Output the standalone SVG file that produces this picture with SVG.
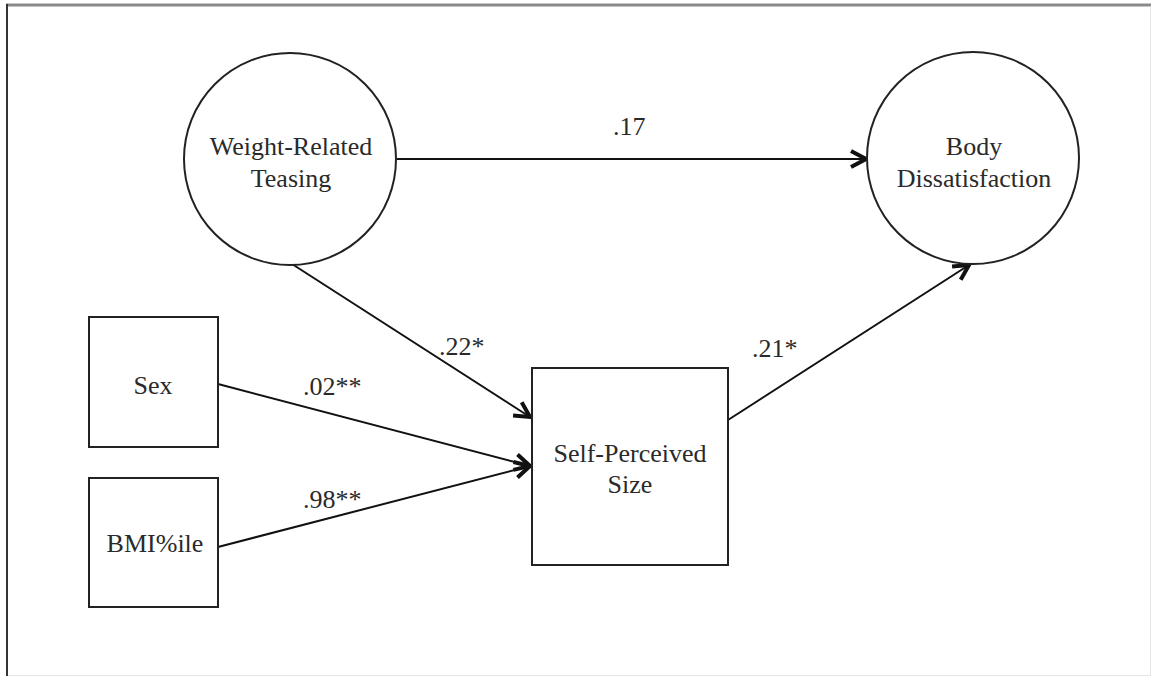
<svg xmlns="http://www.w3.org/2000/svg" width="1151" height="676" viewBox="0 0 1151 676">
<defs>
<marker id="arr" viewBox="0 0 22 22" refX="18" refY="11" markerWidth="22" markerHeight="22" markerUnits="userSpaceOnUse" orient="auto">
<path d="M3,3 L18,11 L3,19" fill="none" stroke="#111" stroke-width="4" stroke-linejoin="miter"/>
</marker>
</defs>
<style>
.node{fill:#fff;stroke:#222;stroke-width:2}
.t{font-family:"Liberation Serif","Tinos","Times New Roman","DejaVu Serif",serif;font-size:26px;fill:#2a2a2a;text-anchor:middle}
.lbl{font-family:"Liberation Serif","Tinos","Times New Roman","DejaVu Serif",serif;font-size:26px;fill:#2a2a2a}
.edge{stroke:#111;stroke-width:2;fill:none;marker-end:url(#arr)}
</style>
<rect x="0" y="0" width="1151" height="676" fill="#fff"/>
<g id="frame">
<line x1="6" y1="5" x2="1151" y2="5" stroke="#8a8a8a" stroke-width="3"/>
<line x1="7" y1="4" x2="7" y2="676" stroke="#333" stroke-width="2"/>
<line x1="8" y1="675.5" x2="1151" y2="675.5" stroke="#e6e6e6" stroke-width="1"/>
<line x1="1150.5" y1="6" x2="1150.5" y2="676" stroke="#e6e6e6" stroke-width="1"/>
</g>
<g id="connectors">
<line class="edge" x1="397" y1="159" x2="866" y2="159"/>
<line class="edge" x1="292" y1="264" x2="530" y2="417"/>
<line class="edge" x1="218" y1="384" x2="530" y2="466"/>
<line class="edge" x1="218" y1="547" x2="530" y2="466"/>
<line class="edge" x1="728" y1="420" x2="969" y2="265"/>
</g>
<g id="labels">
<text class="lbl" x="613" y="135">.17</text>
<text class="lbl" x="439" y="355">.22*</text>
<text class="lbl" x="303" y="395">.02**</text>
<text class="lbl" x="303" y="508">.98**</text>
<text class="lbl" x="752" y="357">.21*</text>
</g>
<g id="teasing">
<circle class="node" cx="290" cy="159" r="106"/>
<text class="t" x="291" y="155">Weight-Related</text>
<text class="t" x="291" y="187">Teasing</text>
</g>
<g id="body-dissatisfaction">
<circle class="node" cx="973" cy="158" r="106"/>
<text class="t" x="974" y="155">Body</text>
<text class="t" x="974" y="187">Dissatisfaction</text>
</g>
<g id="sex">
<rect class="node" x="89" y="317" width="129" height="130"/>
<text class="t" x="153" y="394">Sex</text>
</g>
<g id="bmi">
<rect class="node" x="89" y="478" width="129" height="129"/>
<text class="t" x="155" y="552">BMI%ile</text>
</g>
<g id="self-perceived-size">
<rect class="node" x="532" y="368" width="196" height="197"/>
<text class="t" x="630" y="462">Self-Perceived</text>
<text class="t" x="630" y="493">Size</text>
</g>
</svg>
